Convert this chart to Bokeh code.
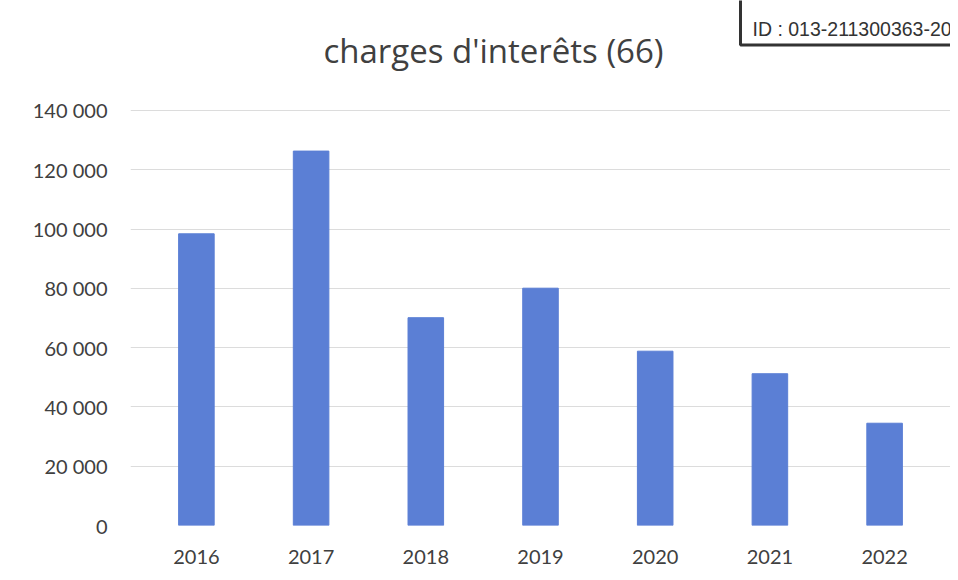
from bokeh.plotting import figure
from bokeh.models import FixedTicker, Label, FactorRange
from bokeh.embed import file_html
from bokeh.resources import INLINE

years = ["2016", "2017", "2018", "2019", "2020", "2021", "2022"]
values = [98400, 126300, 70100, 80050, 58800, 51200, 34500]
y_ticks = [0, 20000, 40000, 60000, 80000, 100000, 120000, 140000]
y_tick_labels = ["0", "20 000", "40 000", "60 000", "80 000", "100 000", "120 000", "140 000"]
title_text = "charges d'interêts (66)"
id_text = "ID : 013-211300363-2023"

FONT = "Lato"
TXT = "#404040"

p = figure(x_range=FactorRange(factors=years, range_padding=0.0213),
           y_range=(0, 177100), width=950, height=572,
           output_backend="svg", toolbar_location=None,
           min_border_left=130, min_border_right=0, min_border_bottom=47, min_border_top=0)

p.vbar(x=years, top=values, width=0.31, color="#5B7FD5")

p.xgrid.grid_line_color = None
p.ygrid.grid_line_color = "#dcdcdc"
p.ygrid.grid_line_width = 1
p.outline_line_color = None

p.yaxis.ticker = FixedTicker(ticks=y_ticks)
p.yaxis.major_label_overrides = dict(zip(y_ticks, y_tick_labels))
for ax in (p.xaxis, p.yaxis):
    ax.axis_line_color = None
    ax.major_tick_line_color = None
    ax.minor_tick_line_color = None
    ax.major_label_text_font = FONT
    ax.major_label_text_font_size = "20px"
    ax.major_label_text_color = TXT
p.yaxis.major_label_standoff = 17
p.xaxis.major_label_standoff = 18

title = Label(x=363, y=475, x_units="screen", y_units="screen", text=title_text,
              text_align="center", text_baseline="alphabetic",
              text_font="Open Sans", text_font_size="33px", text_color=TXT)
p.add_layout(title)

id_label = Label(x=610, y=509, x_units="screen", y_units="screen", text=id_text,
                 text_baseline="alphabetic",
                 text_font="Liberation Sans", text_font_size="19.5px", text_color="#333333",
                 border_line_color="#333333", border_line_width=3,
                 background_fill_color="white",
                 padding=dict(left=12, right=10, top=30, bottom=5))
p.add_layout(id_label)

open("out.html", "w").write(file_html(p, INLINE))
